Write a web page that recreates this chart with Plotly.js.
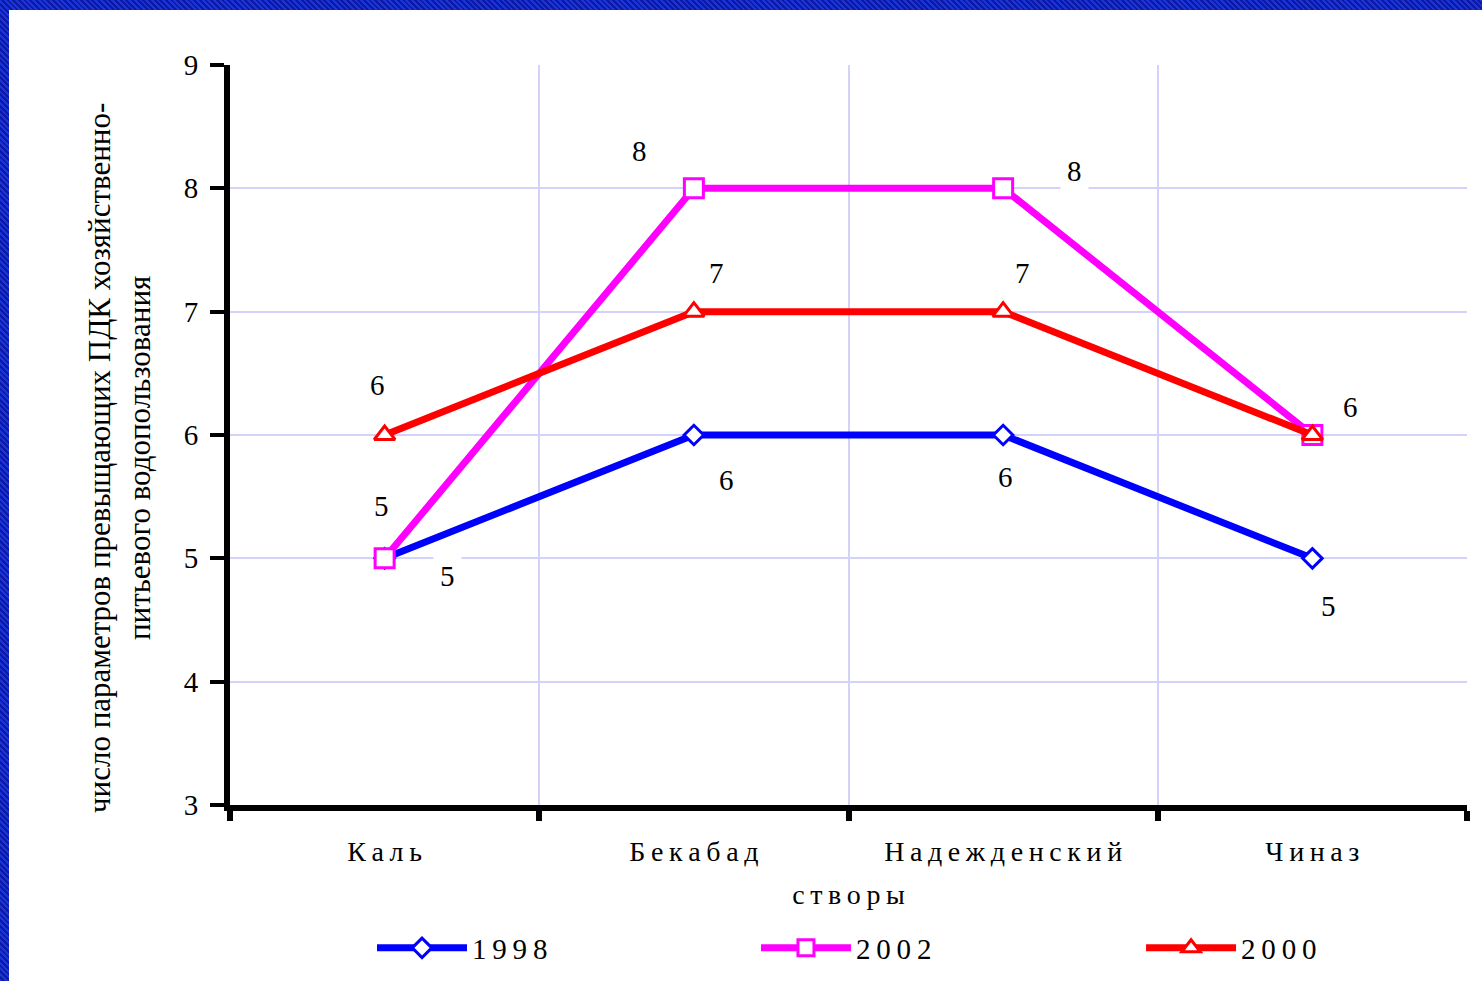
<!DOCTYPE html>
<html><head><meta charset="utf-8">
<script src="https://cdn.plot.ly/plotly-3.0.1.min.js"></script>
<style>
html,body{margin:0;padding:0;width:1482px;height:981px;overflow:hidden;
background:repeating-linear-gradient(45deg,#1a34d6 0px,#1a34d6 2px,#0b19a6 2px,#0b19a6 4px);}
#chart{position:absolute;left:9px;top:10px;width:1473px;height:971px;background:#fff;}
</style></head>
<body><div id="chart"></div>
<script>
const TS = '\u2009';
const sp = s => s.split('').join(TS);
const categories = ['Каль', 'Бекабад', 'Надежденский', 'Чиназ'];
const seriesNames = ['1998', '2002', '2000'];
const values1998 = [5, 6, 6, 5];
const values2002 = [5, 8, 8, 6];
const values2000 = [6, 7, 7, 6];
const yTicks = [3, 4, 5, 6, 7, 8, 9];
const yTitle = 'число параметров превыщающих ПДК хозяйственно-<br>питьевого водопользования';
const xTitle = 'створы';

const catLabels = categories.map(sp);
const FONT = 'Liberation Serif, Times New Roman, serif';

const styles = [
  {color: '#0000ff', symbol: 'diamond', size: 15},
  {color: '#ff00ff', symbol: 'square', size: 19},
  {color: '#ff0000', symbol: 'triangle-up', size: 18}
];
const legendIds = ['legend', 'legend2', 'legend3'];
const legendX = [0.1148, 0.4252, 0.7365];
const seriesVals = [values1998, values2002, values2000];

const traces = seriesVals.map((v, i) => ({
  type: 'scatter', mode: 'lines+markers',
  x: catLabels, y: v, name: sp(seriesNames[i]),
  legend: legendIds[i],
  line: {color: styles[i].color, width: 7},
  marker: {symbol: styles[i].symbol, size: styles[i].size, color: '#ffffff',
           line: {color: styles[i].color, width: 3}},
  cliponaxis: false
}));

// label offsets (pixels) per series/point
const offs = [
  [[63, -18], [33, -45], [2, -42], [16, -48]],
  [[-3, 52], [-54, 37], [71, 17], [38, 28]],
  [[-7, 50], [23, 39], [19, 39], [38, 28]]
];
const annotations = [];
seriesVals.forEach((v, i) => {
  v.forEach((val, j) => {
    annotations.push({x: catLabels[j], y: val, xref: 'x', yref: 'y', text: String(val),
      showarrow: false, xshift: offs[i][j][0], yshift: offs[i][j][1],
      bgcolor: '#ffffff', borderpad: 6,
      font: {family: FONT, size: 29, color: '#000'}});
  });
});
annotations.push({xref: 'paper', yref: 'paper', x: -0.0889, y: 0.469,
  xanchor: 'center', yanchor: 'middle', textangle: -90, showarrow: false,
  text: yTitle, font: {family: FONT, size: 31, color: '#000'}});

const layout = {
  width: 1473, height: 971,
  margin: {l: 221, r: 15, t: 55, b: 176, autoexpand: false},
  paper_bgcolor: '#ffffff', plot_bgcolor: '#ffffff',
  font: {family: FONT, size: 28, color: '#000'},
  showlegend: true,
  xaxis: {type: 'category', tickson: 'boundaries', range: [-0.5, 3.5],
          showline: true, linecolor: '#000', linewidth: 6,
          ticks: 'outside', ticklen: 10, tickwidth: 6, tickcolor: '#000',
          ticklabelstandoff: 16,
          showgrid: true, gridcolor: '#d2d2fa', gridwidth: 2,
          tickfont: {family: FONT, size: 28, color: '#000'},
          title: {text: sp(xTitle), font: {family: FONT, size: 28, color: '#000'}, standoff: 21},
          fixedrange: true},
  yaxis: {range: [3, 9], tickvals: yTicks, ticktext: yTicks.map(String),
          showline: true, linecolor: '#000', linewidth: 6,
          ticks: 'outside', ticklen: 14, tickwidth: 4, tickcolor: '#000',
          ticklabelstandoff: 6,
          showgrid: true, gridcolor: '#d2d2fa', gridwidth: 2, zeroline: false,
          tickfont: {family: FONT, size: 29, color: '#000'},
          fixedrange: true},
  annotations: annotations
};
legendIds.forEach((id, i) => {
  layout[id] = {orientation: 'h', x: legendX[i], xanchor: 'left', y: -0.1932, yanchor: 'middle',
    itemwidth: 90, font: {family: FONT, size: 29, color: '#000'}, bgcolor: 'rgba(0,0,0,0)'};
});
Plotly.newPlot('chart', traces, layout, {displayModeBar: false, staticPlot: true});
</script></body></html>
